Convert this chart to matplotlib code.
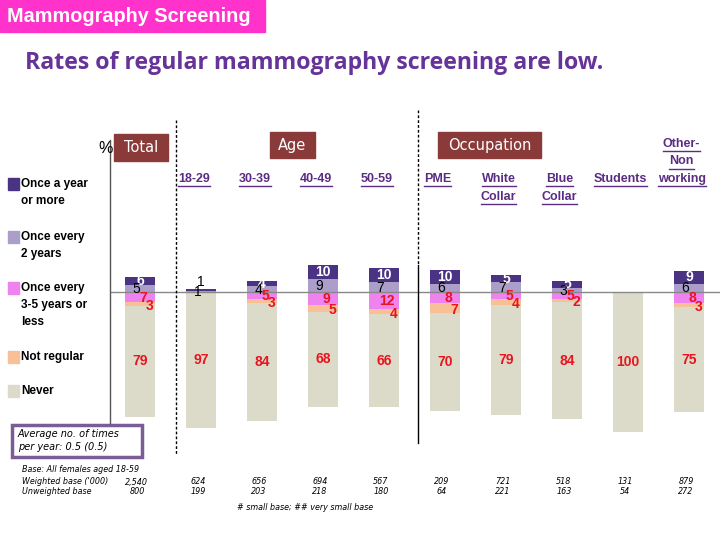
import matplotlib
matplotlib.use("Agg")
import matplotlib.pyplot as plt
from matplotlib.lines import Line2D
from matplotlib.patches import Rectangle

# ---------------- data ----------------
categories = ["Total", "18-29", "30-39", "40-49", "50-59", "PME",
              "White\nCollar", "Blue\nCollar", "Students", "Other-\nNon\nworking"]
once_a_year   = [6, 1, 4, 10, 10, 10, 5, 5, 0, 9]
every_2_years = [5, 1, 4, 9, 7, 6, 7, 3, 0, 6]
every_3_5     = [7, 0, 5, 9, 12, 8, 5, 5, 0, 8]
not_regular   = [3, 0, 3, 5, 4, 7, 4, 2, 0, 3]
never         = [79, 97, 84, 68, 66, 70, 79, 84, 100, 75]
weighted_base   = ["2,540", "624", "656", "694", "567", "209", "721", "518", "131", "879"]
unweighted_base = ["800", "199", "203", "218", "180", "64", "221", "163", "54", "272"]
legend_labels = ["Once a year\nor more", "Once every\n2 years",
                 "Once every\n3-5 years or\nless", "Not regular", "Never"]

# ---------------- styles ----------------
C_YEAR = "#4a3383"
C_2Y = "#ab9fca"
C_35 = "#ee82ee"
C_NR = "#f8c096"
C_NEVER = "#dcdac8"
C_RED = "#e8141e"
C_HEAD = "#5b2c83"
C_BOX = "#8b3a3a"
SANS = "Liberation Sans"

W, H = 720, 540
fig = plt.figure(figsize=(7.2, 5.4), dpi=100)

def fx(x):
    return x / W

def fy(y):
    return 1 - y / H

# main axes (pixel layout: left 110, right 720, top 120, bottom 460; zero line at 292, 1.4 px / %)
ax = fig.add_axes([fx(110), fy(460), fx(720) - fx(110), fy(120) - fy(460)])
ax.set_xlim((110 - 140) / 61, (720 - 140) / 61)
ax.set_ylim(-(460 - 292) / 1.4, (292 - 120) / 1.4)
ax.axis("off")

xs = list(range(len(categories)))
bw = 0.5

for i in xs:
    v1, v2, v3, v4, v5 = once_a_year[i], every_2_years[i], every_3_5[i], not_regular[i], never[i]
    ax.bar(i, v2, bottom=0, width=bw, color=C_2Y, zorder=2)
    ax.bar(i, v1, bottom=v2, width=bw, color=C_YEAR, zorder=2)
    ax.bar(i, -v3, bottom=0, width=bw, color=C_35, zorder=2)
    ax.bar(i, -v4, bottom=-v3, width=bw, color=C_NR, zorder=2)
    ax.bar(i, -v5, bottom=-(v3 + v4), width=bw, color=C_NEVER, zorder=2)

    # labels
    if v1 > 0:
        if v1 >= 3:
            ax.text(i, v2 + v1 / 2, str(v1), ha="center", va="center", color="white",
                    fontsize=10, fontweight="bold", family=SANS, zorder=5)
        else:
            ax.text(i, v2 + v1 + 0.5, str(v1), ha="center", va="bottom", color="black",
                    fontsize=10, family=SANS, zorder=5)
    if v2 > 0:
        ax.text(i - 0.06, v2 / 2 - 0.5, str(v2), ha="center", va="center", color="black",
                fontsize=10, family=SANS, zorder=5)
    if v3 > 0:
        ax.text(i + 0.05, -v3 / 2 - 0.5, str(v3), ha="center", va="center", color=C_RED,
                fontsize=10, fontweight="bold", family=SANS, zorder=5)
    if v4 > 0:
        ax.text(i + 0.15, -v3 - v4 / 2 - 1.5, str(v4), ha="center", va="center", color=C_RED,
                fontsize=10, fontweight="bold", family=SANS, zorder=5)
    if v5 > 0:
        ax.text(i, -(v3 + v4) - v5 / 2, str(v5), ha="center", va="center", color=C_RED,
                fontsize=10, fontweight="bold", family=SANS, zorder=5)

ax.axhline(0, color="#888888", lw=1, zorder=3)

# ---------------- figure decorations ----------------
# title box
fig.patches.append(Rectangle((0, fy(32)), fx(265), fy(0) - fy(32), transform=fig.transFigure,
                             color="#ff33cc", zorder=0))
fig.text(fx(7), fy(16), "Mammography Screening", ha="left", va="center", color="white",
         fontsize=14.3, fontweight="bold", family=SANS)
fig.text(fx(25), fy(63), "Rates of regular mammography screening are low.", ha="left",
         va="center", color="#663399", fontsize=16.7, fontweight="bold", family="Open Sans")

# group boxes
for (x0, y0, x1, y1, txt) in [(114, 134, 168, 161, "Total"), (270, 132, 315, 158, "Age"),
                              (438, 132, 541, 158, "Occupation")]:
    fig.patches.append(Rectangle((fx(x0), fy(y1)), fx(x1) - fx(x0), fy(y0) - fy(y1),
                                 transform=fig.transFigure, color=C_BOX, zorder=1))
    fig.text(fx((x0 + x1) / 2), fy((y0 + y1) / 2), txt, ha="center", va="center",
             color="white", fontsize=10.5, family="DejaVu Sans", zorder=2)
fig.text(fx(106), fy(148), "%", ha="center", va="center", fontsize=11.5, family=SANS)

# vertical separators
def vline(x, y0, y1, ls, color="black", lw=1.0):
    fig.lines.append(Line2D([fx(x), fx(x)], [fy(y0), fy(y1)], transform=fig.transFigure,
                            color=color, lw=lw, ls=ls))

vline(110, 140, 423, "-", color="#555555")
vline(176, 120, 455, (0, (2, 1.5)))
vline(418, 110, 265, (0, (2, 1.5)))
vline(418, 265, 443, "-")

# column headers (underlined)
fig.canvas.draw()
renderer = fig.canvas.get_renderer()
header_lift = [0, 0, 0, 0, 0, 0, 0, 0, 0, 2]
for i, lab in enumerate(categories):
    if i == 0:
        continue
    xpix = ax.transData.transform((i - 0.12, 0))[0]
    top = 179 - header_lift[i] * 17.5
    lines = lab.split("\n")
    for k, ln in enumerate(lines):
        yc = top + k * 17.5
        t = fig.text(xpix / W, fy(yc), ln, ha="center", va="center", color=C_HEAD,
                     fontsize=9, fontweight="bold", family=SANS)
        bb = t.get_window_extent(renderer)
        yl = bb.y0 - 1
        fig.lines.append(Line2D([bb.x0 / W, bb.x1 / W], [yl / H, yl / H],
                                transform=fig.transFigure, color=C_HEAD, lw=1))

# legend
leg_colors = [C_YEAR, C_2Y, C_35, C_NR, C_NEVER]
leg_y = [184, 237, 288, 357, 391]
for col, lab, y in zip(leg_colors, legend_labels, leg_y):
    fig.patches.append(Rectangle((fx(8), fy(y + 6)), fx(11), fy(0) - fy(12),
                                 transform=fig.transFigure, color=col))
    for k, ln in enumerate(lab.split("\n")):
        fig.text(fx(21), fy(y + k * 17), ln, ha="left", va="center", fontsize=8.5,
                 fontweight="bold", family=SANS)

# average box
fig.patches.append(Rectangle((fx(12), fy(457)), fx(130), fy(425) - fy(457),
                             transform=fig.transFigure, fill=False, edgecolor="#7a5c96",
                             lw=2.5))
fig.text(fx(18), fy(434), "Average no. of times", ha="left", va="center", fontsize=7,
         style="italic", family="DejaVu Sans")
fig.text(fx(18), fy(447), "per year: 0.5 (0.5)", ha="left", va="center", fontsize=7,
         style="italic", family="DejaVu Sans")

# bases
small = dict(fontsize=5.8, style="italic", family="DejaVu Sans")
fig.text(fx(22), fy(470), "Base: All females aged 18-59", ha="left", va="center", **small)
fig.text(fx(22), fy(482), "Weighted base ('000)", ha="left", va="center", **small)
fig.text(fx(22), fy(492), "Unweighted base", ha="left", va="center", **small)
for i in xs:
    xpix = ax.transData.transform((i - 0.05, 0))[0]
    fig.text(xpix / W, fy(482), weighted_base[i], ha="center", va="center", **small)
    fig.text(xpix / W, fy(492), unweighted_base[i], ha="center", va="center", **small)
fig.text(fx(305), fy(508), "# small base; ## very small base", ha="center", va="center", **small)

fig.savefig("out.png", dpi=100)
